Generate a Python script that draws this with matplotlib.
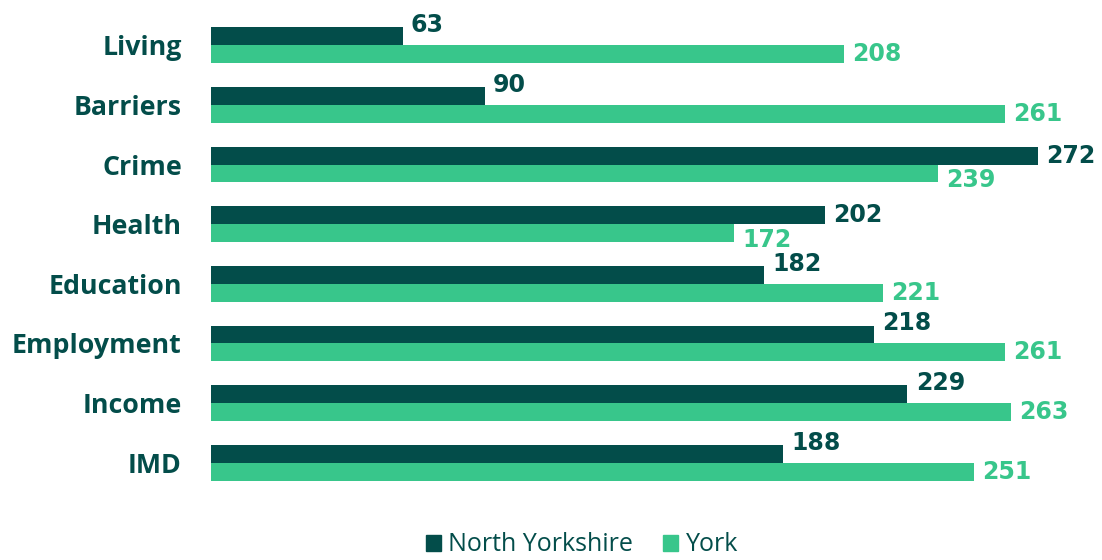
import matplotlib.pyplot as plt
from matplotlib.patches import Patch

categories = ["Living", "Barriers", "Crime", "Health", "Education", "Employment", "Income", "IMD"]
north_yorkshire = [63, 90, 272, 202, 182, 218, 229, 188]
york = [208, 261, 239, 172, 221, 261, 263, 251]
series_names = ["North Yorkshire", "York"]

dark = "#034d4a"
light = "#38c68b"

fig = plt.figure(figsize=(11.02, 5.6), dpi=100)
ax = fig.add_axes([211 / 1102, 0.11, 1 - 211 / 1102, 0.89])

pos = list(range(len(categories)))
h = 0.3
ax.barh([p - h / 2 for p in pos], north_yorkshire, height=h, color=dark)
ax.barh([p + h / 2 for p in pos], york, height=h, color=light)

for p, a, b in zip(pos, north_yorkshire, york):
    # dark label sits a bit high, unless the dark bar is the longer one
    if a > b:
        up_a, up_b = 0, -5
    else:
        up_a, up_b = 8, 0
    ax.annotate(str(a), (a, p - h / 2), xytext=(6, up_a), textcoords="offset points",
                va="center", ha="left", fontsize=17, fontweight="bold",
                color=dark, family="DejaVu Sans")
    ax.annotate(str(b), (b, p + h / 2), xytext=(6, up_b), textcoords="offset points",
                va="center", ha="left", fontsize=17, fontweight="bold",
                color=light, family="DejaVu Sans")

ax.set_xlim(0, 293)
ax.set_ylim(7.6, -0.76)
ax.set_yticks(pos)
ax.set_yticklabels(categories, fontsize=19.3, fontweight="bold", color=dark, family="Open Sans")
ax.tick_params(axis="y", length=0, pad=21)
ax.set_xticks([])
for s in ax.spines.values():
    s.set_visible(False)

handles = [Patch(color=dark), Patch(color=light)]
fig.legend(handles, series_names, loc="center", bbox_to_anchor=(0.528, 0.027), ncol=2,
           frameon=False, prop={"family": "Open Sans", "size": 18},
           handlelength=0.6, handleheight=0.6, handletextpad=0.3, columnspacing=1.2,
           labelcolor=dark)

fig.savefig("out.png", dpi=100)
